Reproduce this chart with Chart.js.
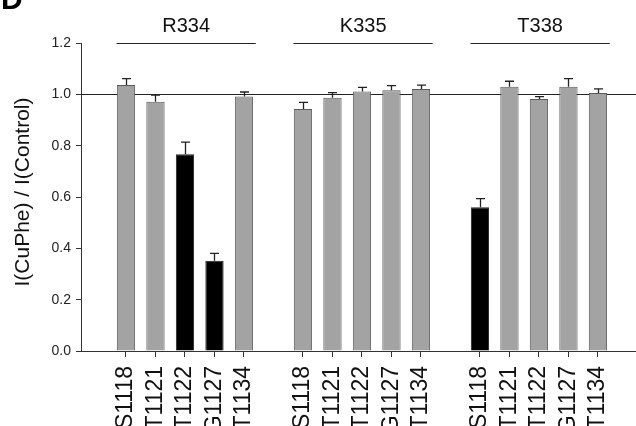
<!DOCTYPE html>
<html>
<head>
<meta charset="utf-8">
<script src="https://cdn.jsdelivr.net/npm/chart.js@4"></script>
<style>
  html, body { margin: 0; padding: 0; background: #fff; }
  canvas { display: block; }
</style>
</head>
<body>
<canvas id="barChart" width="636" height="426"></canvas>
<script>
// groups of residues and the mutated sites in each
var groups = ['R334', 'K335', 'T338'];
var sites = ['S1118', 'T1121', 'T1122', 'G1127', 'T1134'];

// I(CuPhe)/I(Control) mean values
var r334Vals = [1.036, 0.971, 0.767, 0.352, 0.992];
var k335Vals = [0.943, 0.987, 1.011, 1.016, 1.021];
var t338Vals = [0.560, 1.030, 0.982, 1.030, 1.005];

// upper error (SEM)
var r334Err = [0.025, 0.026, 0.047, 0.028, 0.017];
var k335Err = [0.026, 0.020, 0.016, 0.018, 0.015];
var t338Err = [0.034, 0.021, 0.009, 0.031, 0.016];

// bars drawn black (significant)
var r334Dark = [false, false, true, true, false];
var k335Dark = [false, false, false, false, false];
var t338Dark = [true, false, false, false, false];

var yTicks = [0, 0.2, 0.4, 0.6, 0.8, 1.0, 1.2];

var FONT = "'Liberation Sans', Arial, sans-serif";
var allVals = [r334Vals, k335Vals, t338Vals];
var allErr = [r334Err, k335Err, t338Err];
var allDark = [r334Dark, k335Dark, t338Dark];

var points = [], errs = [], fills = [], borders = [], tickPos = [];
allVals.forEach(function(vals, g) {
    vals.forEach(function(v, i) {
        var pos = g * (sites.length + 1) + i;
        points.push({x: pos, y: v});
        errs.push(allErr[g][i]);
        fills.push(allDark[g][i] ? '#000000' : '#a3a3a3');
        borders.push(allDark[g][i] ? '#222222' : '#5a5a5a');
        tickPos.push(pos);
    });
});

var extras = {
    id: 'extras',
    beforeDatasetsDraw: function(chart) {
        var ctx = chart.ctx, a = chart.chartArea, y = chart.scales.y;
        var py = Math.round(y.getPixelForValue(1.0)) + 0.5;
        ctx.save();
        ctx.strokeStyle = '#222';
        ctx.lineWidth = 1;
        ctx.beginPath();
        ctx.moveTo(a.left, py);
        ctx.lineTo(a.right, py);
        ctx.stroke();
        ctx.restore();
    },
    afterDatasetsDraw: function(chart) {
        var ctx = chart.ctx, x = chart.scales.x, y = chart.scales.y;
        var meta = chart.getDatasetMeta(0);
        ctx.save();
        ctx.strokeStyle = '#222';
        ctx.lineWidth = 1.3;
        meta.data.forEach(function(bar, i) {
            var top = y.getPixelForValue(points[i].y + errs[i]);
            var cx = Math.round(bar.x) + 0.5;
            ctx.beginPath();
            ctx.moveTo(cx, bar.y);
            ctx.lineTo(cx, top);
            ctx.moveTo(cx - 4.5, top);
            ctx.lineTo(cx + 4.5, top);
            ctx.stroke();
        });

        // group brackets and names
        var ly = Math.round(y.getPixelForValue(1.2)) + 0.5;
        ctx.lineWidth = 1;
        ctx.fillStyle = '#111';
        ctx.font = '20px ' + FONT;
        ctx.textAlign = 'center';
        ctx.textBaseline = 'alphabetic';
        groups.forEach(function(name, g) {
            var first = g * (sites.length + 1);
            var last = first + sites.length - 1;
            var x1 = x.getPixelForValue(first - 0.32);
            var x2 = x.getPixelForValue(last + 0.4);
            ctx.beginPath();
            ctx.moveTo(x1, ly);
            ctx.lineTo(x2, ly);
            ctx.stroke();
            ctx.fillText(name, (x1 + x2) / 2, 32);
        });

        // y axis title
        ctx.save();
        ctx.translate(23, 192);
        ctx.rotate(-Math.PI / 2);
        ctx.font = '21px ' + FONT;
        ctx.textBaseline = 'middle';
        ctx.fillText('I(CuPhe) / I(Control)', 0, 0);
        ctx.restore();

        // panel letter
        ctx.font = 'bold 30px ' + FONT;
        ctx.textAlign = 'left';
        ctx.fillStyle = '#000';
        ctx.fillText('D', 1, 9);
        ctx.restore();
    }
};

var ctxB = document.getElementById('barChart').getContext('2d');
var myBarChart = new Chart(ctxB, {
    type: 'bar',
    data: {
        datasets: [{
            data: points,
            backgroundColor: fills,
            borderColor: borders,
            borderWidth: 1,
            barPercentage: 0.62,
            categoryPercentage: 1
        }]
    },
    options: {
        responsive: false,
        animation: false,
        layout: { padding: { top: 43, left: 0, right: 0, bottom: 0 } },
        plugins: { legend: { display: false }, tooltip: { enabled: false } },
        scales: {
            x: {
                type: 'linear',
                offset: false,
                min: -1.525,
                max: 17.29,
                afterBuildTicks: function(scale) {
                    scale.ticks = tickPos.map(function(v) { return {value: v}; });
                },
                afterFit: function(scale) { scale.height = 75; },
                ticks: {
                    autoSkip: false,
                    minRotation: 90,
                    maxRotation: 90,
                    padding: 9,
                    color: '#111',
                    font: { family: FONT, size: 23 },
                    callback: function(v) { return sites[Math.round(v) % (sites.length + 1)]; }
                },
                grid: { offset: false, drawOnChartArea: false, tickLength: 6, color: '#333' },
                border: { color: '#333', width: 1 }
            },
            y: {
                min: 0,
                max: 1.2,
                afterBuildTicks: function(scale) {
                    scale.ticks = yTicks.map(function(v) { return {value: v}; });
                },
                afterFit: function(scale) { scale.width = 81; },
                ticks: {
                    padding: 5,
                    color: '#222',
                    font: { family: FONT, size: 14 },
                    callback: function(v) { return v.toFixed(1); }
                },
                grid: { drawOnChartArea: false, tickLength: 5, color: '#333' },
                border: { color: '#333', width: 1 }
            }
        }
    },
    plugins: [extras]
});
</script>
</body>
</html>
